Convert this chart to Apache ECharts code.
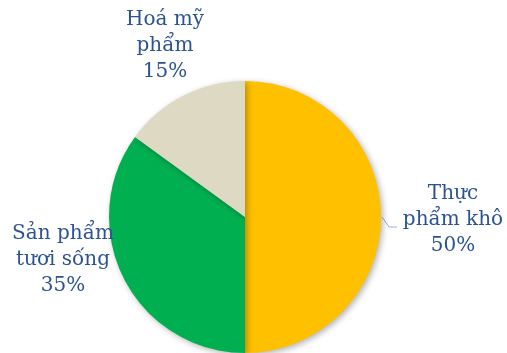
<!DOCTYPE html>
<html>
<head>
<meta charset="utf-8">
<script src="https://cdn.jsdelivr.net/npm/echarts@6/dist/echarts.min.js"></script>
<style>html,body{margin:0;padding:0;background:#fff;}#c{width:507px;height:353px;}</style>
</head>
<body>
<div id="c"></div>
<script>
var categories = ['Thực phẩm khô', 'Sản phẩm tươi sống', 'Hoá mỹ phẩm'];
var labelNames = ['Thực\nphẩm khô', 'Sản phẩm\ntươi sống', 'Hoá mỹ\nphẩm'];
var values = [50, 35, 15];
var colors = ['#FFC000', '#00B050', '#DDD9C3'];
var labelCenters = [[453, 220], [63, 260], [165, 46]];
var showLeader = [true, false, false];

var chart = echarts.init(document.getElementById('c'), null, {renderer: 'canvas'});
var data = categories.map(function (c, i) {
  return {
    name: c,
    value: values[i],
    itemStyle: {color: colors[i]},
    labelLine: {show: showLeader[i]}
  };
});
chart.setOption({
  animation: false,
  series: [{
    type: 'pie',
    center: [245, 217],
    radius: [0, 136],
    startAngle: 90,
    clockwise: true,
    data: data,
    itemStyle: {
      shadowBlur: 6,
      shadowOffsetX: 2,
      shadowOffsetY: 2,
      shadowColor: 'rgba(0,0,0,0.3)'
    },
    label: {
      show: true,
      position: 'outside',
      overflow: 'none',
      fontFamily: 'DejaVu Serif',
      fontSize: 20,
      lineHeight: 26,
      color: '#2C5391',
      formatter: function (p) {
        return labelNames[p.dataIndex] + '\n' + p.value + '%';
      }
    },
    labelLine: {
      length: 8,
      length2: 8,
      lineStyle: {color: '#8EB4E3', width: 1}
    },
    labelLayout: function (params) {
      var c = labelCenters[params.dataIndex];
      var res = {x: c[0], y: c[1], align: 'center', verticalAlign: 'middle'};
      var pts = params.labelLinePoints;
      if (showLeader[params.dataIndex] && pts && pts.length) {
        var s = pts[0];
        res.labelLinePoints = [[s[0] + 1, s[1]], [s[0] + 8, s[1] + 10], [s[0] + 16, s[1] + 10]];
      }
      return res;
    }
  }]
});
</script>
</body>
</html>
